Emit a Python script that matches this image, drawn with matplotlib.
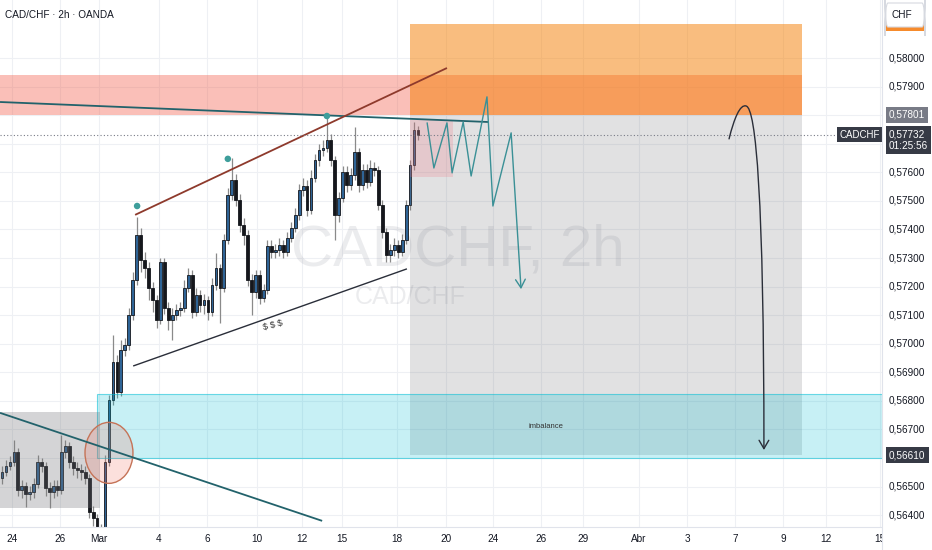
import numpy as np
import matplotlib.pyplot as plt
import matplotlib.transforms as mtransforms
from matplotlib.patches import Rectangle, Ellipse, FancyArrowPatch, FancyBboxPatch
from matplotlib.path import Path

plt.rcParams['font.family'] = ['Liberation Sans Narrow', 'Liberation Sans', 'DejaVu Sans']

# CAD/CHF 2h candles
opens = [0.56530, 0.56551, 0.56572, 0.56586, 0.56621, 0.56488, 0.56502, 0.56474, 0.56481, 0.56509,
         0.56586, 0.56572, 0.56495, 0.56481, 0.56502, 0.56488, 0.56621, 0.56642, 0.56586, 0.56565,
         0.56558, 0.56551, 0.56530, 0.56411, 0.56390, 0.56331, 0.56348, 0.56586, 0.56803, 0.56936,
         0.56831, 0.56978, 0.56996, 0.57101, 0.57223, 0.57381, 0.57293, 0.57265, 0.57195, 0.57153,
         0.57083, 0.57286, 0.57125, 0.57083, 0.57101, 0.57118, 0.57125, 0.57195, 0.57241, 0.57111,
         0.57171, 0.57136, 0.57153, 0.57111, 0.57206, 0.57265, 0.57195, 0.57363, 0.57521, 0.57573,
         0.57503, 0.57416, 0.57381, 0.57223, 0.57181, 0.57241, 0.57160, 0.57188, 0.57342, 0.57321,
         0.57328, 0.57346, 0.57321, 0.57370, 0.57405, 0.57451, 0.57538, 0.57552, 0.57468, 0.57580,
         0.57643, 0.57678, 0.57685, 0.57713, 0.57643, 0.57451, 0.57510, 0.57601, 0.57556, 0.57591,
         0.57671, 0.57556, 0.57608, 0.57566, 0.57615, 0.57608, 0.57486, 0.57391, 0.57311, 0.57328,
         0.57346, 0.57321, 0.57363, 0.57486, 0.57626, 0.57748]
closes = [0.56551, 0.56572, 0.56586, 0.56621, 0.56488, 0.56502, 0.56474, 0.56481, 0.56509, 0.56586,
          0.56572, 0.56495, 0.56481, 0.56502, 0.56488, 0.56621, 0.56642, 0.56586, 0.56565, 0.56558,
          0.56551, 0.56530, 0.56411, 0.56390, 0.56331, 0.56348, 0.56586, 0.56803, 0.56936, 0.56831,
          0.56978, 0.56996, 0.57101, 0.57223, 0.57381, 0.57293, 0.57265, 0.57195, 0.57153, 0.57083,
          0.57286, 0.57125, 0.57083, 0.57101, 0.57118, 0.57125, 0.57195, 0.57241, 0.57111, 0.57171,
          0.57136, 0.57153, 0.57111, 0.57206, 0.57265, 0.57195, 0.57363, 0.57521, 0.57573, 0.57503,
          0.57416, 0.57381, 0.57223, 0.57181, 0.57241, 0.57160, 0.57188, 0.57342, 0.57321, 0.57328,
          0.57346, 0.57321, 0.57370, 0.57405, 0.57451, 0.57538, 0.57552, 0.57468, 0.57580, 0.57643,
          0.57678, 0.57685, 0.57713, 0.57643, 0.57451, 0.57510, 0.57601, 0.57556, 0.57591, 0.57671,
          0.57556, 0.57608, 0.57566, 0.57615, 0.57608, 0.57486, 0.57391, 0.57311, 0.57328, 0.57346,
          0.57321, 0.57363, 0.57486, 0.57626, 0.57748, 0.57732]
highs = [0.56572, 0.56593, 0.56607, 0.56663, 0.56635, 0.56523, 0.56516, 0.56502, 0.56530, 0.56611,
         0.56600, 0.56586, 0.56516, 0.56523, 0.56523, 0.56681, 0.56663, 0.56656, 0.56607, 0.56586,
         0.56579, 0.56572, 0.56544, 0.56432, 0.56404, 0.56369, 0.56611, 0.56821, 0.57031, 0.56961,
         0.57013, 0.57020, 0.57125, 0.57251, 0.57444, 0.57405, 0.57321, 0.57286, 0.57216, 0.57171,
         0.57300, 0.57300, 0.57146, 0.57125, 0.57139, 0.57146, 0.57223, 0.57265, 0.57258, 0.57195,
         0.57188, 0.57174, 0.57167, 0.57230, 0.57318, 0.57279, 0.57384, 0.57545, 0.57650, 0.57594,
         0.57524, 0.57440, 0.57398, 0.57244, 0.57258, 0.57258, 0.57209, 0.57363, 0.57363, 0.57349,
         0.57370, 0.57363, 0.57391, 0.57426, 0.57475, 0.57559, 0.57580, 0.57573, 0.57608, 0.57664,
         0.57699, 0.57713, 0.57794, 0.57734, 0.57657, 0.57531, 0.57622, 0.57622, 0.57615, 0.57759,
         0.57685, 0.57629, 0.57629, 0.57643, 0.57636, 0.57622, 0.57503, 0.57405, 0.57349, 0.57370,
         0.57363, 0.57384, 0.57503, 0.57643, 0.57776, 0.57762]
lows = [0.56509, 0.56537, 0.56558, 0.56572, 0.56467, 0.56460, 0.56429, 0.56453, 0.56460, 0.56495,
        0.56551, 0.56467, 0.56425, 0.56460, 0.56467, 0.56474, 0.56600, 0.56565, 0.56541, 0.56530,
        0.56523, 0.56509, 0.56390, 0.56362, 0.56296, 0.56296, 0.56313, 0.56572, 0.56786, 0.56810,
        0.56817, 0.56957, 0.56978, 0.57083, 0.57206, 0.57251, 0.57230, 0.57153, 0.57111, 0.57055,
        0.57069, 0.57104, 0.57048, 0.57013, 0.57083, 0.57097, 0.57111, 0.57181, 0.57090, 0.57097,
        0.57111, 0.57104, 0.57083, 0.57097, 0.57188, 0.57073, 0.57181, 0.57349, 0.57503, 0.57482,
        0.57391, 0.57346, 0.57202, 0.57101, 0.57160, 0.57139, 0.57146, 0.57174, 0.57300, 0.57300,
        0.57307, 0.57300, 0.57307, 0.57356, 0.57391, 0.57433, 0.57517, 0.57447, 0.57454, 0.57566,
        0.57622, 0.57657, 0.57671, 0.57622, 0.57363, 0.57426, 0.57496, 0.57531, 0.57538, 0.57573,
        0.57531, 0.57538, 0.57545, 0.57552, 0.57587, 0.57468, 0.57370, 0.57286, 0.57286, 0.57307,
        0.57300, 0.57307, 0.57349, 0.57468, 0.57608, 0.57713]

# axis ticks
price_ticks = [0.564, 0.565, 0.566, 0.567, 0.568, 0.569, 0.570, 0.571, 0.572,
               0.573, 0.574, 0.575, 0.576, 0.577, 0.578, 0.579, 0.580]
date_ticks = [2.5, 14.6, 24.5, 39.6, 51.7, 64.4, 75.7, 85.8, 99.7, 112.1,
              123.9, 136.0, 146.6, 160.8, 172.9, 185.0, 197.1, 208.0, 221.6]
date_labels = ['24', '26', 'Mar', '4', '6', '10', '12', '15', '18', '20',
               '24', '26', '29', 'Abr', '3', '7', '9', '12', '15']

last_price = 0.57732
entry_price = 0.57801
stop_price = 0.58119
target_price = 0.56610

# drawings, anchored as (bar, price)
position_bars = (103.0, 201.9)
supply_zone = (0.57801, 0.57940)
imbalance_zone = (24.0, 0.56600, 0.56824)
range_box = (24.7, 0.56425, 0.56761)
small_box = (103.0, 113.8, 0.57583, 0.57783)
circle_center = (27.0, 0.56618)
trend_top = [(-0.5, 0.57846), (122.7, 0.57776)]
trend_low = [(-0.5, 0.56758), (80.8, 0.56380)]
wedge_top = [(33.6, 0.57451), (112.3, 0.57965)]
wedge_bottom = [(33.1, 0.56922), (102.2, 0.57262)]
pivots = [(34.1, 0.57482), (57.0, 0.57647), (82.0, 0.57797)]
zigzag = [(107.3, 0.57773), (109.0, 0.57615), (112.3, 0.57773), (113.6, 0.57598),
          (116.4, 0.57776), (118.4, 0.57587), (122.4, 0.57864), (123.9, 0.57482),
          (128.5, 0.57738), (131.0, 0.57191)]
arc = [(183.5, 0.57717), (184.8, 0.57790), (186.3, 0.57839), (187.8, 0.57832),
       (190.3, 0.57825), (192.3, 0.57503), (192.3, 0.56628)]

W, H = 932, 550
plot_w, plot_h = 882, 527
y_top, y_bot = 0.58203, 0.563585
x_left, x_right = -0.505, 222.1

fig = plt.figure(figsize=(W / 100, H / 100), dpi=100)
ax = fig.add_axes([0, (H - plot_h) / H, plot_w / W, plot_h / H])
ax.set_xlim(x_left, x_right)
ax.set_ylim(y_bot, y_top)

text_c = '#131722'
grid_c = '#EEF0F4'

# grid
for p in price_ticks:
    ax.axhline(p, color=grid_c, lw=0.8, zorder=0)
for t in date_ticks:
    ax.axvline(t, color=grid_c, lw=0.8, zorder=0)

# candles
o = np.array(opens)
c = np.array(closes)
hi = np.array(highs)
lo = np.array(lows)
x = np.arange(len(c))
up = c >= o
ax.vlines(x, lo, hi, color='#8A8A8A', lw=0.9, zorder=2)
body = np.maximum(np.abs(c - o), 0.00003)
ax.bar(x, body, bottom=np.minimum(o, c), width=0.7,
       color=np.where(up, '#2F6496', '#15171C'), edgecolor='#15171C',
       linewidth=0.6, zorder=2.5)

# zones
ax.add_patch(Rectangle((x_left, supply_zone[0]), position_bars[1] - x_left,
                       supply_zone[1] - supply_zone[0], fc=(0.95, 0.35, 0.27, 0.38),
                       ec='none', zorder=3))
ax.add_patch(Rectangle((position_bars[0], entry_price), position_bars[1] - position_bars[0],
                       stop_price - entry_price, fc=(0.96, 0.49, 0.0, 0.5), ec='none', zorder=3))
ax.add_patch(Rectangle((position_bars[0], target_price), position_bars[1] - position_bars[0],
                       entry_price - target_price, fc=(0.45, 0.45, 0.47, 0.21), ec='none', zorder=3))
ax.add_patch(Rectangle((imbalance_zone[0], imbalance_zone[1]), x_right + 1 - imbalance_zone[0],
                       imbalance_zone[2] - imbalance_zone[1], fc=(0.0, 0.74, 0.83, 0.22),
                       ec=(0.0, 0.74, 0.83, 0.55), lw=0.8, zorder=3))
ax.add_patch(Rectangle((x_left - 1, range_box[1]), range_box[0] - x_left + 1,
                       range_box[2] - range_box[1], fc=(0.45, 0.45, 0.47, 0.3),
                       ec='none', zorder=3))
ax.add_patch(Rectangle((small_box[0], small_box[2]), small_box[1] - small_box[0],
                       small_box[3] - small_box[2], fc=(0.95, 0.45, 0.5, 0.22),
                       ec='none', zorder=3))
ax.add_patch(Ellipse(circle_center, 12.1, 0.002135, fc=(0.95, 0.45, 0.38, 0.22),
                     ec='#C57357', lw=1.0, zorder=3.5))
ax.text(137.3, 0.56712, 'imbalance', fontsize=5.5, color='#333333', ha='center',
        va='center', zorder=4)

# trend lines
for line, col in [(trend_top, '#22626B'), (trend_low, '#22626B'),
                  (wedge_top, '#8E3A2C'), (wedge_bottom, '#2A2E39')]:
    ax.plot([line[0][0], line[1][0]], [line[0][1], line[1][1]], color=col,
            lw=1.3 if col != '#2A2E39' else 1.0, zorder=4, solid_capstyle='butt')
ax.scatter([p[0] for p in pivots], [p[1] for p in pivots], s=22, color='#3E9E9B',
           zorder=5, edgecolors='none')
ax.text(68.4, 0.57066, '$ $ $', fontsize=6.5, color='#333333', rotation=14,
        ha='center', va='center', zorder=4)

# projected path
zz = Path(zigzag, [Path.MOVETO] + [Path.LINETO] * (len(zigzag) - 1))
ax.add_patch(FancyArrowPatch(path=zz, arrowstyle='->,head_length=0.6,head_width=0.35',
                             mutation_scale=10, color='#3A9096', lw=1.0, zorder=5))
arc_path = Path(arc, [Path.MOVETO, Path.CURVE4, Path.CURVE4, Path.CURVE4,
                      Path.CURVE4, Path.CURVE4, Path.CURVE4])
ax.add_patch(FancyArrowPatch(path=arc_path, arrowstyle='->,head_length=0.6,head_width=0.35',
                             mutation_scale=10, color='#2A2E39', lw=1.0, zorder=5))

# last price line
ax.axhline(last_price, color='#787B86', lw=0.8, ls=(0, (1, 2)), zorder=4)
blend = mtransforms.blended_transform_factory(ax.transAxes, ax.transData)
ax.text(0.998, last_price, 'CADCHF', transform=blend, ha='right', va='center',
        fontsize=7, color='white', zorder=10,
        bbox=dict(boxstyle='square,pad=0.3', fc='#363A45', ec='none'))

# watermark
ax.text(115.0, 0.57328, 'CADCHF, 2h', fontsize=42, color=(0.47, 0.48, 0.53, 0.14),
        ha='center', va='center', zorder=1)
ax.text(103.0, 0.57164, 'CAD/CHF', fontsize=18, color=(0.47, 0.48, 0.53, 0.14),
        ha='center', va='center', zorder=1)

# title
ax.text(5 / plot_w, 1 - 15 / plot_h, 'CAD/CHF · 2h · OANDA', transform=ax.transAxes,
        fontsize=7.2, color=text_c, ha='left', va='center', zorder=10)

# time axis
ax.set_xticks(date_ticks)
ax.set_xticklabels(date_labels, fontsize=7.2, color=text_c)
ax.tick_params(axis='x', length=0, pad=5)
ax.set_yticks([])
for s in ['top', 'left', 'right']:
    ax.spines[s].set_visible(False)
ax.spines['bottom'].set_color('#E0E3EB')

# price axis panel
scale = (y_top - y_bot) / plot_h
pax = fig.add_axes([plot_w / W, 0, (W - plot_w) / W, 1])
pax.set_zorder(5)
pax.set_facecolor('white')
pax.set_xlim(0, 1)
pax.set_ylim(y_top - H * scale, y_top)
pax.set_xticks([])
pax.set_yticks([])
for s in ['top', 'right', 'bottom']:
    pax.spines[s].set_visible(False)
pax.spines['left'].set_color('#E0E3EB')
pblend = mtransforms.blended_transform_factory(pax.transAxes, pax.transData)

tag_prices = [entry_price, last_price - 0.00019, target_price]
for p in price_ticks:
    # labels hidden behind a price tag are not drawn
    if min(abs(p - t) for t in tag_prices) < 0.0004:
        continue
    pax.text(0.14, p, f'{p:.5f}'.replace('.', ','), transform=pblend, fontsize=7.2,
             color=text_c, ha='left', va='center')


def price_tag(price, label, fc, y_center=None):
    yc = price if y_center is None else y_center
    pax.text(0.14, yc, label, transform=pblend, fontsize=7.2, color='white',
             ha='left', va='center', linespacing=1.15, zorder=6,
             bbox=dict(boxstyle='square,pad=0.3', fc=fc, ec='none'))


price_tag(entry_price, f'{entry_price:.5f}'.replace('.', ','), '#787B86')
price_tag(last_price, f'{last_price:.5f}'.replace('.', ',') + '\n01:25:56', '#363A45',
          y_center=last_price - 0.00019)
price_tag(target_price, f'{target_price:.5f}'.replace('.', ','), '#363A45')

# stop label hidden under the currency button
pax.add_patch(Rectangle((0.06, 1 - 31 / H), 0.8, 14 / H, transform=pax.transAxes,
                        fc='#F68B2C', ec='none', zorder=6))
pax.add_patch(FancyBboxPatch((0.06, 1 - 27 / H), 0.8, 24 / H, transform=pax.transAxes,
                             boxstyle='round,pad=0,rounding_size=0.06', fc='white',
                             ec='#D6D9E0', lw=0.8, zorder=7))
pax.text(0.2, 1 - 15 / H, 'CHF', transform=pax.transAxes, fontsize=7.2, color=text_c,
         ha='left', va='center', zorder=8)

fig.savefig('out.png', dpi=100)
